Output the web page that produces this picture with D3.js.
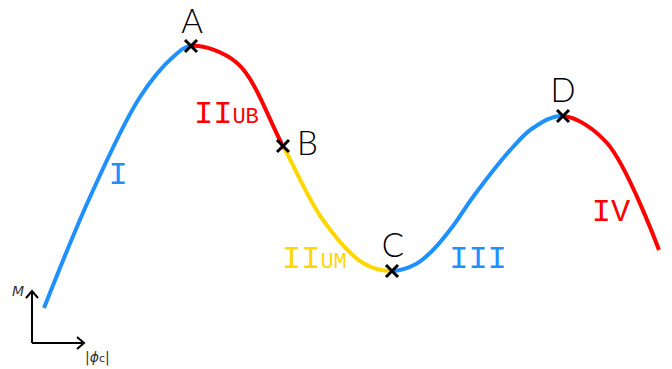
<!DOCTYPE html>
<html>
<head>
<meta charset="utf-8">
<script src="https://cdn.jsdelivr.net/npm/d3@7"></script>
<style>
  body { margin: 0; background: #fff; }
</style>
</head>
<body>
<script>
// curve samples: |phi_c| (x) and M (y), arbitrary units
const phi = [0, 46, 96, 129, 147, 193, 239, 279, 319, 348, 372, 389, 409, 429, 469, 489, 519, 563, 615];
const moment = [0, 111, 211, 251, 262, 245, 162, 88, 45, 37, 44, 58, 82, 111, 161, 180, 192, 165, 58];

// named points on the curve
const pointNames = ["A", "B", "C", "D"];
const pointPhi = [147, 239, 348, 519];
const pointM = [262, 162, 37, 192];

// regions between the points
const regionNames = ["I", "II", "II", "III", "IV"];
const regionSubs = ["", "UB", "UM", "", ""];
const regionEnds = [0, 147, 239, 348, 519, 615];
const regionColors = ["#1e90ff", "#ff0000", "#ffd700", "#1e90ff", "#ff0000"];

const width = 672;
const height = 369;

const x = d3.scaleLinear().domain([0, 615]).range([44, 659]);
const y = d3.scaleLinear().domain([0, 262]).range([308, 46]);

const svg = d3.select(document.body).append("svg")
  .attr("width", width)
  .attr("height", height);

const data = phi.map((p, i) => ({ p, m: moment[i] }));

const line = d3.line()
  .x(d => x(d.p))
  .y(d => y(d.m))
  .curve(d3.curveCatmullRom.alpha(0.5));

// one clip per region so the colored pieces join smoothly
const defs = svg.append("defs");
regionColors.forEach((c, i) => {
  const x0 = i === 0 ? 0 : x(regionEnds[i]);
  const x1 = i === regionColors.length - 1 ? width : x(regionEnds[i + 1]);
  defs.append("clipPath")
    .attr("id", `clip${i}`)
    .append("rect")
    .attr("x", x0)
    .attr("y", 0)
    .attr("width", x1 - x0)
    .attr("height", height);
});

regionColors.forEach((c, i) => {
  svg.append("path")
    .datum(data)
    .attr("d", line)
    .attr("clip-path", `url(#clip${i})`)
    .attr("fill", "none")
    .attr("stroke", c)
    .attr("stroke-width", 4);
});

// region labels
const labelPos = [
  { px: 118, py: 184, anchor: "middle" },
  { px: 194, py: 123, anchor: "start" },
  { px: 282, py: 268, anchor: "start" },
  { px: 478, py: 268, anchor: "middle" },
  { px: 611, py: 221, anchor: "middle" }
];

regionNames.forEach((name, i) => {
  const t = svg.append("text")
    .attr("x", labelPos[i].px)
    .attr("y", labelPos[i].py)
    .attr("text-anchor", labelPos[i].anchor)
    .attr("fill", regionColors[i])
    .attr("style", "font-family: 'Liberation Mono', monospace; font-size: 32px;")
    .text(name);
  if (regionSubs[i]) {
    t.append("tspan")
      .attr("style", "font-size: 22px;")
      .text(regionSubs[i]);
  }
});

// cross markers
const pts = pointNames.map((n, i) => ({ n, p: pointPhi[i], m: pointM[i] }));
const s = 6;
const marks = svg.selectAll(".mark")
  .data(pts)
  .enter().append("g")
  .attr("transform", d => `translate(${x(d.p)},${y(d.m)})`);

marks.append("path")
  .attr("d", `M${-s},${-s}L${s},${s}M${-s},${s}L${s},${-s}`)
  .attr("stroke", "#000")
  .attr("stroke-width", 3);

const letterOffset = {
  A: [1, -13, "middle"],
  B: [14, 9, "start"],
  C: [1, -14, "middle"],
  D: [0, -14, "middle"]
};

marks.append("text")
  .attr("x", d => letterOffset[d.n][0])
  .attr("y", d => letterOffset[d.n][1])
  .attr("text-anchor", d => letterOffset[d.n][2])
  .attr("style", "font-family: Lato, sans-serif; font-weight: 300; font-size: 33px; fill: #000;")
  .text(d => d.n);

// small axes sketch in the corner
const ax = svg.append("g").attr("stroke", "#000").attr("stroke-width", 2).attr("fill", "none");
ax.append("path").attr("d", "M32,343L32,291M84,343L32,343");
ax.append("path").attr("d", "M26,298L32,291L38,298");
ax.append("path").attr("d", "M77,337L84,343L77,349");

svg.append("text")
  .attr("x", 12)
  .attr("y", 296)
  .attr("style", "font-family: 'DejaVu Sans', sans-serif; font-style: italic; font-size: 14px; fill: #333;")
  .text("M");

const phiLabel = svg.append("text")
  .attr("x", 85)
  .attr("y", 362)
  .attr("style", "font-family: 'DejaVu Sans', sans-serif; font-size: 14px; fill: #333;");
phiLabel.append("tspan").text("|");
phiLabel.append("tspan").attr("font-style", "italic").text("ϕ");
phiLabel.append("tspan").attr("style", "font-size: 11px;").text("c");
phiLabel.append("tspan").text("|");
</script>
</body>
</html>
